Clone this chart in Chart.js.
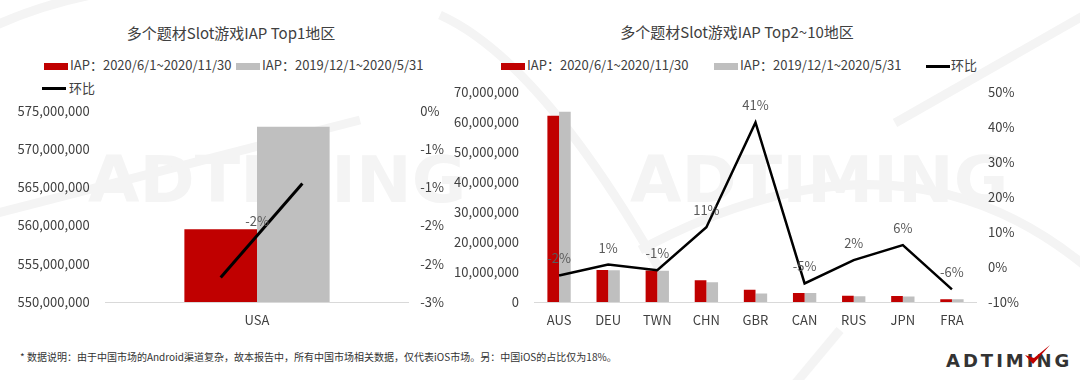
<!DOCTYPE html>
<html>
<head>
<meta charset="utf-8">
<script src="https://cdn.jsdelivr.net/npm/chart.js@4.4.1/dist/chart.umd.min.js"></script>
<style>
  body { margin: 0; width: 1080px; height: 380px; background: #fff; position: relative; overflow: hidden;
         font-family: "Noto Sans CJK SC", "Noto Sans", sans-serif; color: #404040; }
  .abs { position: absolute; white-space: nowrap; }
  .title { font-size: 15px; line-height: 20px; color: #404040; transform: translateX(-50%); }
  .lg { font-size: 13px; line-height: 16px; color: #404040; }
  .box { position: absolute; height: 7px; width: 24px; }
  .ln { position: absolute; height: 3px; width: 24px; background: #000; }
  .wm { font-family: "DejaVu Sans", sans-serif; font-weight: bold; font-size: 64px; line-height: 64px; color: #f4f4f4;
        transform-origin: 0 0; transform: scaleX(1.04); }
  canvas { position: absolute; }
</style>
</head>
<body>
<svg class="abs" style="left:0;top:0" width="1080" height="380">
  <g fill="none" stroke="#f4f4f4" stroke-width="9">
    <path d="M -10 28 Q 50 0 120 -10"/>
    <path d="M -10 215 L 360 120"/>
    <path d="M 440 15 Q 540 60 660 270"/>
    <path d="M 895 123 L 1090 12"/>
    <path d="M 640 250 Q 900 110 1090 270"/>
    <path d="M 790 390 L 840 330"/>
  </g>
</svg>
<div class="abs wm" style="left:88px;top:148px">ADTIMING</div>
<div class="abs wm" style="left:630px;top:148px">ADTIMING</div>

<div class="abs title" style="left:231px;top:23px">多个题材Slot游戏IAP Top1地区</div>
<div class="box" style="left:44px;top:63px;background:#C00000"></div>
<div class="abs lg" style="left:70px;top:57px">IAP：2020/6/1~2020/11/30</div>
<div class="box" style="left:236px;top:63px;background:#BFBFBF"></div>
<div class="abs lg" style="left:262px;top:57px">IAP：2019/12/1~2020/5/31</div>
<div class="ln" style="left:42px;top:87px"></div>
<div class="abs lg" style="left:69px;top:80px">环比</div>

<div class="abs title" style="left:737px;top:22px">多个题材Slot游戏IAP Top2~10地区</div>
<div class="box" style="left:501px;top:63px;background:#C00000"></div>
<div class="abs lg" style="left:527px;top:57px">IAP：2020/6/1~2020/11/30</div>
<div class="box" style="left:714px;top:63px;background:#BFBFBF"></div>
<div class="abs lg" style="left:740px;top:57px">IAP：2019/12/1~2020/5/31</div>
<div class="ln" style="left:926px;top:65px"></div>
<div class="abs lg" style="left:951px;top:57px">环比</div>

<canvas id="chartTop1" width="460" height="245" style="left:0;top:87px;width:460px;height:245px"></canvas>
<canvas id="chartTop10" width="640" height="263" style="left:440px;top:69px;width:640px;height:263px"></canvas>

<div class="abs" style="left:20px;top:350px;font-size:10px;line-height:14px;color:#333">* 数据说明：由于中国市场的Android渠道复杂，故本报告中，所有中国市场相关数据，仅代表iOS市场。另：中国iOS的占比仅为18%。</div>
<div class="abs" style="left:946px;top:350px;font-family:'DejaVu Sans',sans-serif;font-weight:bold;font-size:18px;line-height:22px;letter-spacing:3px;color:#333">ADTIMING</div>
<svg class="abs" style="left:1022px;top:343px" width="30" height="24">
  <path d="M 3 12 L 11 21 L 28 2 L 12 15 Z" fill="#C00000"/>
</svg>

<script>
// Top1 region
const top1Labels = ["USA"];
const top1Current = [559500000];
const top1Previous = [572900000];
const top1Ratio = [-1.67];
// the ratio line in the Top1 chart runs as a short segment across the USA group
const top1LineX = [-0.12, 0.15];
const top1LineY = [-2.18, -0.95];

// Top2~10 regions
const top10Labels = ["AUS", "DEU", "TWN", "CHN", "GBR", "CAN", "RUS", "JPN", "FRA"];
const top10Current = [62200000, 10700000, 10500000, 7300000, 4100000, 3000000, 2100000, 2000000, 950000];
const top10Previous = [63500000, 10600000, 10400000, 6600000, 2800000, 3000000, 1900000, 1800000, 900000];
const top10Ratio = [-2.4, 0.7, -0.9, 11.4, 41.4, -4.7, 2.0, 6.3, -6.4];

const tickFont = { family: '"Noto Sans CJK SC"', size: 13 };
const tickColor = "#404040";

function fmtPct(v) {
  const r = Math.round(Math.abs(+v.toFixed(6)));
  return (v < 0 && r !== 0 ? "-" : "") + r + "%";
}
function fmtNum(v) {
  return Number(v).toLocaleString("en-US");
}

/* ratio labels above the line */
const pctLabels = {
  id: "pctLabels",
  afterDatasetsDraw(chart, args, opts) {
    const ctx = chart.ctx;
    const xs = chart.scales.x, ys = chart.scales.y1;
    ctx.save();
    ctx.font = '13px "Noto Sans CJK SC"';
    ctx.fillStyle = "#595959";
    ctx.textAlign = "center";
    ctx.textBaseline = "middle";
    opts.values.forEach((v, i) => {
      ctx.fillText(fmtPct(v), xs.getPixelForValue(i), ys.getPixelForValue(v) - 17);
    });
    ctx.restore();
  }
};

function makeScales(leftW, rightW, yMin, yMax, yStep, pMin, pMax, pStep, leftPad, rightPad) {
  return {
    x: {
      grid: { display: false },
      border: { display: true, color: "#D9D9D9", width: 1 },
      ticks: { font: tickFont, color: tickColor, padding: 2 },
      afterFit: (s) => { s.height = 30; }
    },
    y: {
      position: "left", min: yMin, max: yMax,
      grid: { display: false, drawTicks: false },
      border: { display: false },
      ticks: { stepSize: yStep, font: tickFont, color: tickColor, padding: leftPad, callback: fmtNum },
      afterFit: (s) => { s.width = leftW; }
    },
    y1: {
      position: "right", min: pMin, max: pMax,
      grid: { display: false, drawTicks: false },
      border: { display: false },
      ticks: { stepSize: pStep, font: tickFont, color: tickColor, padding: rightPad, callback: fmtPct },
      afterFit: (s) => { s.width = rightW; }
    }
  };
}

function renderTop1() {
  const scales = makeScales(105.7, 51.7, 550000000, 575000000, 5000000, -2.5, 0, 0.5, 16, 12);
  scales.xl = { type: "linear", min: -0.5, max: 0.5, offset: false, display: false };
  const lineData = top1LineX.map((x, i) => ({ x: x, y: top1LineY[i] }));
  new Chart(document.getElementById("chartTop1").getContext("2d"), {
    type: "bar",
    data: {
      labels: top1Labels,
      datasets: [
        { type: "line", label: "环比", data: lineData, xAxisID: "xl", yAxisID: "y1",
          borderColor: "#000", borderWidth: 3, pointRadius: 0, order: 0 },
        { label: "IAP：2020/6/1~2020/11/30", data: top1Current, backgroundColor: "#C00000",
          yAxisID: "y", categoryPercentage: 0.96, barPercentage: 1, order: 1 },
        { label: "IAP：2019/12/1~2020/5/31", data: top1Previous, backgroundColor: "#BFBFBF",
          yAxisID: "y", categoryPercentage: 0.96, barPercentage: 1, order: 1 }
      ]
    },
    options: {
      responsive: false, animation: false,
      plugins: { legend: { display: false }, tooltip: { enabled: false }, pctLabels: { values: top1Ratio } },
      scales: scales
    },
    plugins: [pctLabels]
  });
}

function renderTop10() {
  const scales = makeScales(94.5, 103.5, 0, 70000000, 10000000, -10, 50, 10, 15.5, 11.5);
  new Chart(document.getElementById("chartTop10").getContext("2d"), {
    type: "bar",
    data: {
      labels: top10Labels,
      datasets: [
        { type: "line", label: "环比", data: top10Ratio, yAxisID: "y1",
          borderColor: "#000", borderWidth: 2.5, pointRadius: 0, tension: 0, order: 0 },
        { label: "IAP：2020/6/1~2020/11/30", data: top10Current, backgroundColor: "#C00000",
          yAxisID: "y", categoryPercentage: 0.475, barPercentage: 1, order: 1 },
        { label: "IAP：2019/12/1~2020/5/31", data: top10Previous, backgroundColor: "#BFBFBF",
          yAxisID: "y", categoryPercentage: 0.475, barPercentage: 1, order: 1 }
      ]
    },
    options: {
      responsive: false, animation: false,
      plugins: { legend: { display: false }, tooltip: { enabled: false }, pctLabels: { values: top10Ratio } },
      scales: scales
    },
    plugins: [pctLabels]
  });
}

renderTop1();
renderTop10();
</script>
</body>
</html>
